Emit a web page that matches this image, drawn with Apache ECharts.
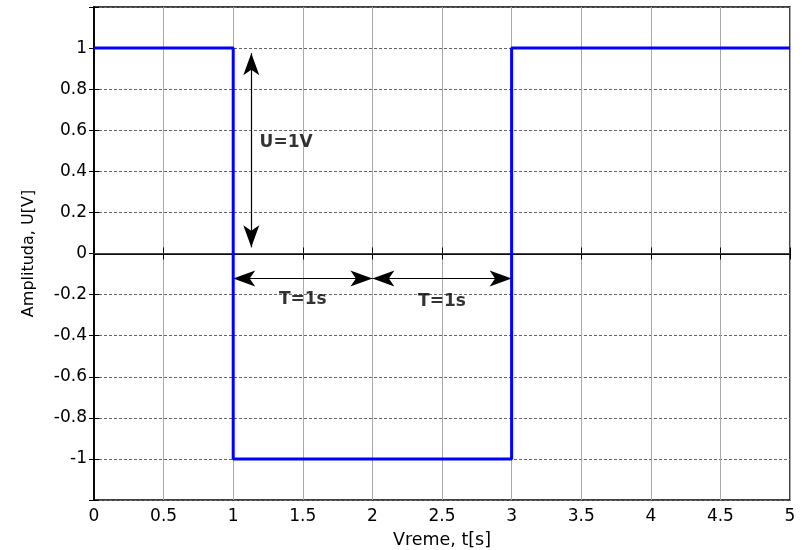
<!DOCTYPE html>
<html><head><meta charset="utf-8">
<script src="https://cdn.jsdelivr.net/npm/echarts@6/dist/echarts.min.js"></script>
<style>html,body{margin:0;padding:0;background:#fff}#c{width:802px;height:550px}</style>
</head><body><div id="c"></div>
<script>
const xTicks = [0,0.5,1,1.5,2,2.5,3,3.5,4,4.5,5];
const yTickLabels = ['-1','-0.8','-0.6','-0.4','-0.2','0','0.2','0.4','0.6','0.8','1'];
const signalX = [0,1,1,3,3,5];
const signalY = [1,1,-1,-1,1,1];
const arrows = [
  [[1.13,0.975],[1.13,0.03]],
  [[1.0,-0.122],[2.0,-0.122]],
  [[2.0,-0.122],[3.0,-0.122]]
];
const annoText = ['U=1V','T=1s','T=1s'];
const annoPos = [[1.38,0.54],[1.5,-0.225],[2.5,-0.235]];

const font = '"DejaVu Sans", sans-serif';
const chart = echarts.init(document.getElementById('c'));
const baseX = {type:'value',min:0,max:5,interval:0.5};
const baseY = {type:'value',min:-1.2,max:1.2,interval:0.2};
function fmtY(v){ if (Math.abs(v)>1.05) return ''; return (Math.round(v*10)/10).toString(); }
chart.setOption({
  animation:false,
  backgroundColor:'#fff',
  grid:{left:94,right:12,top:7,bottom:50,outerBoundsMode:'none',containLabel:false,show:true,borderColor:'#000',borderWidth:1.5,backgroundColor:'transparent'},
  xAxis:[
    Object.assign({},baseX,{position:'bottom',name:'Vreme, t[s]',nameLocation:'middle',nameGap:31,
      nameTextStyle:{fontFamily:font,fontSize:17.5,color:'#000'},
      axisLine:{show:true,lineStyle:{color:'#000',width:1.5}},
      axisTick:{show:true,inside:true,length:6,lineStyle:{color:'#000'}},
      axisLabel:{fontFamily:font,fontSize:17,color:'#000',margin:8,formatter:v=>String(v)},
      splitLine:{show:true,lineStyle:{color:'#aaa',width:1,type:'solid'}}}),
    Object.assign({},baseX,{position:'top',
      axisLine:{show:true,lineStyle:{color:'#000',width:1.5}},
      axisTick:{show:true,inside:true,length:6,lineStyle:{color:'#000'}},
      axisLabel:{show:false},splitLine:{show:false}})
  ],
  yAxis:[
    Object.assign({},baseY,{position:'left',name:'Amplituda, U[V]',nameLocation:'middle',nameGap:57,
      nameTextStyle:{fontFamily:font,fontSize:16,color:'#000'},
      axisLine:{show:true,lineStyle:{color:'#000',width:1.5}},
      axisTick:{show:true,inside:true,length:5,lineStyle:{color:'#000'}},
      axisLabel:{fontFamily:font,fontSize:17,color:'#000',margin:7,formatter:fmtY},
      splitLine:{show:true,lineStyle:{color:'#666',width:1,type:[3,2]}}}),
    Object.assign({},baseY,{position:'right',
      axisLine:{show:true,lineStyle:{color:'#000',width:1.5}},
      axisTick:{show:true,inside:true,length:5,lineStyle:{color:'#000'}},
      axisLabel:{show:false},splitLine:{show:false}})
  ],
  series:[
    {type:'line',data:[[0,0],[5,0]],symbol:'none',lineStyle:{color:'#444',width:1},z:3},
    {type:'line',data:signalX.map((x,i)=>[x,signalY[i]]),symbol:'none',
      lineStyle:{color:'#0000ff',width:3},z:5},
    {type:'line',data:[],symbol:'none',
      markLine:{silent:true,symbol:['arrow','arrow'],symbolSize:[12,22],
        label:{show:false},lineStyle:{color:'#000',width:1.2,type:'solid'},
        data:arrows.map(a=>[{coord:a[0]},{coord:a[1]}])},z:6},
    {type:'scatter',symbolSize:0,data:annoPos.map((p,i)=>({value:p,label:{show:true,formatter:annoText[i],color:'#000'}})),
      label:{show:true,position:'inside',fontFamily:font,fontSize:17,fontWeight:'bold',color:'#000'},z:7}
  ]
});
</script></body></html>
